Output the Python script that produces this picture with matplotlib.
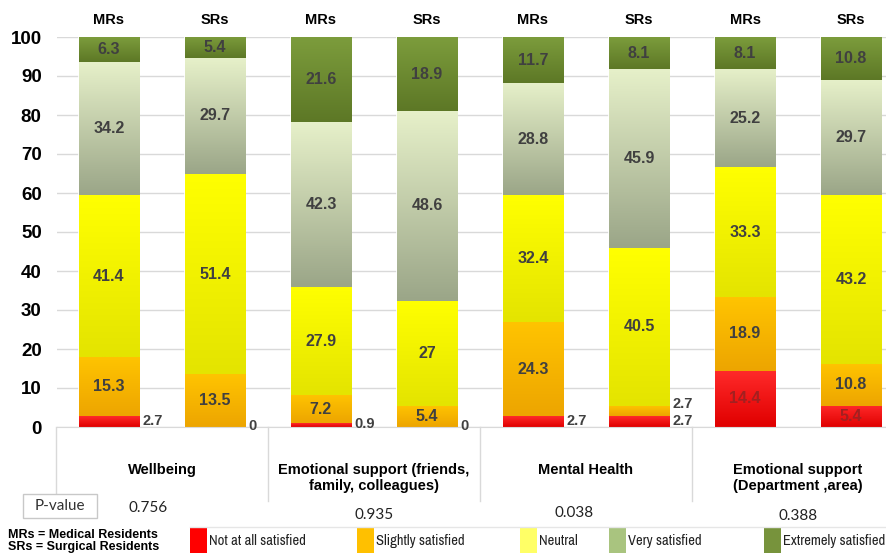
import numpy as np
import matplotlib
matplotlib.use('Agg')
import matplotlib.pyplot as plt
import matplotlib.transforms as mtransforms
from matplotlib import font_manager as fm
from matplotlib.patches import Rectangle
from matplotlib.colors import LinearSegmentedColormap

plt.rcParams['font.family'] = ['Liberation Sans', 'DejaVu Sans']

# data
groups = ['Wellbeing', 'Emotional support (friends,\nfamily, colleagues)',
          'Mental Health', 'Emotional support\n(Department ,area)']
residents = ['MRs', 'SRs']
p_values = ['0.756', '0.935', '0.038', '0.388']
levels = ['Not at all satisfied', 'Slightly satisfied', 'Neutral',
          'Very satisfied', 'Extremely satisfied']

not_at_all = [2.7, 0, 0.9, 0, 2.7, 2.7, 14.4, 5.4]
slightly = [15.3, 13.5, 7.2, 5.4, 24.3, 2.7, 18.9, 10.8]
neutral = [41.4, 51.4, 27.9, 27, 32.4, 40.5, 33.3, 43.2]
very = [34.2, 29.7, 42.3, 48.6, 28.8, 45.9, 25.2, 29.7]
extremely = [6.3, 5.4, 21.6, 18.9, 11.7, 8.1, 8.1, 10.8]
series = [not_at_all, slightly, neutral, very, extremely]

# (top, bottom) gradient colours of each segment, legend colour
grad_cols = [('#ff2a2a', '#e00000'), ('#ffc400', '#eda500'),
             ('#ffff00', '#e4e400'), ('#e6f0c9', '#9ba688'),
             ('#7c9c3c', '#5d7826')]
legend_cols = ['#ff0000', '#ffc000', '#ffff66', '#a9c47f', '#77933c']

# narrow font for the legend if there is one, else a smaller normal one
cond = [f for f in fm.fontManager.ttflist
        if ('Narrow' in f.name or 'Condensed' in f.name or 'condensed' in str(f.stretch))
        and f.weight in (400, 'normal', 'regular') and f.style == 'normal']
cond.sort(key=lambda f: 0 if 'Narrow' in f.name else 1)
if cond and 'Narrow' in cond[0].name:
    leg_font = fm.FontProperties(fname=cond[0].fname, size=10.5)
elif cond:
    leg_font = fm.FontProperties(fname=cond[0].fname, size=9)
else:
    leg_font = fm.FontProperties(family='Liberation Sans', size=8.6)

W, H = 886, 553
fig = plt.figure(figsize=(W / 100, H / 100), dpi=100)
ax = fig.add_axes([57 / W, 1 - 427 / H, (W - 57) / W, 390 / H])

n = len(not_at_all)
x = np.arange(n)
width = 0.57
bottom = np.zeros(n)
containers = []
for vals, (ctop, cbot) in zip(series, grad_cols):
    bc = ax.bar(x, vals, width, bottom=bottom, color=cbot, edgecolor='white',
                linewidth=1.2, zorder=2)
    cmap = LinearSegmentedColormap.from_list('g', [cbot, ctop])
    grad = np.linspace(1, 0, 64)[:, None]
    for p in bc.patches:
        if p.get_height() <= 0:
            continue
        x0, y0 = p.get_x(), p.get_y()
        im = ax.imshow(grad, extent=[x0, x0 + p.get_width(), y0, y0 + p.get_height()],
                       cmap=cmap, aspect='auto', zorder=2.5, interpolation='bilinear')
        im.set_clip_path(p)
    containers.append(bc)
    bottom = bottom + np.array(vals)

# value labels
for i in range(n):
    last_out = -10
    for k, bc in enumerate(containers):
        p = bc.patches[i]
        v = series[k][i]
        yc = p.get_y() + p.get_height() / 2
        txt = f'{v:g}'
        if v < 4:
            yc = max(yc + 0.3, last_out + 4.2)
            last_out = yc
            ax.text(p.get_x() + p.get_width() + 0.03, yc, txt, ha='left', va='center',
                    fontsize=10.5, fontweight='bold', color='#404040', zorder=4)
        else:
            col = '#a32020' if k == 0 else '#404040'
            ax.text(p.get_x() + p.get_width() / 2, yc, txt, ha='center', va='center',
                    fontsize=11.5, fontweight='bold', color=col, zorder=4)
    ax.text(x[i], 104.4, residents[i % 2], ha='center', va='center',
            fontsize=10.5, fontweight='bold', clip_on=False)

ax.set_ylim(0, 100)
ax.set_xlim(-0.49, 7.33)
ax.set_yticks(np.arange(0, 101, 10))
ax.set_xticks([])
ax.tick_params(axis='y', length=0, pad=11, labelsize=13.5)
for lab in ax.get_yticklabels():
    lab.set_fontweight('bold')
ax.yaxis.grid(True, color='#d9d9d9', linewidth=1)
ax.set_axisbelow(True)
for s in ['left', 'right', 'top']:
    ax.spines[s].set_visible(False)
ax.spines['bottom'].set_color('#d9d9d9')

# category area below the bars
blend = mtransforms.blended_transform_factory(ax.transData, ax.transAxes)
blend_fig = mtransforms.blended_transform_factory(ax.transData, fig.transFigure)
for g, name in enumerate(groups):
    sep = 2 * g - 0.5
    ax.plot([sep, sep], [0, -0.19 if g else -0.17], transform=blend,
            color='#d9d9d9', lw=1, clip_on=False)
    ax.text(2 * g + 0.5, -0.093, name, transform=blend, ha='center', va='top',
            fontsize=10.5, fontweight='bold', linespacing=1.15, clip_on=False)

pv_shift = [-0.13, 0, -0.11, 0]
pv_y = [508, 515, 513, 516]
for g, pv in enumerate(p_values):
    ax.text(2 * g + 0.5 + pv_shift[g], 1 - pv_y[g] / H, pv, transform=blend_fig,
            ha='center', va='center', fontsize=11, family=['Lato', 'DejaVu Sans'],
            color='#222222', clip_on=False)

fig.patches.append(Rectangle((23 / W, 1 - 518 / H), 74 / W, 24 / H, transform=fig.transFigure,
                             facecolor='white', edgecolor='#c8c8c8', lw=1))
fig.text(60 / W, 1 - 506 / H, 'P-value', ha='center', va='center', fontsize=11,
         family=['Lato', 'DejaVu Sans'], color='#333333')

fig.text(8 / W, 1 - 535 / H, 'MRs = Medical Residents', ha='left', va='center',
         fontsize=9, fontweight='bold')
fig.text(8 / W, 1 - 547 / H, 'SRs = Surgical Residents', ha='left', va='center',
         fontsize=9, fontweight='bold')

# legend, with the faint cell borders above it
fig.add_artist(plt.Line2D([190 / W, 1], [1 - 527 / H] * 2, color='#e6e6e6', lw=1))
leg_x = [190, 357, 520, 609, 764]
for lx, lab, col in zip(leg_x, levels, legend_cols):
    fig.patches.append(Rectangle((lx / W, 0), 17 / W, 25 / H, transform=fig.transFigure,
                                 facecolor=col, edgecolor='none'))
    fig.text((lx + 19) / W, 1 - 541 / H, lab, ha='left', va='center',
             fontproperties=leg_font, color='#222222')

fig.savefig('out.png', dpi=100)
